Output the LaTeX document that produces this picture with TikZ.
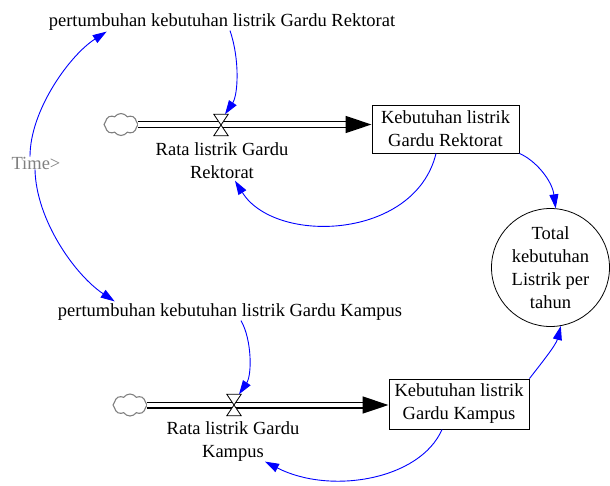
\documentclass[tikz,border=0pt]{standalone}
\usepackage{fontspec}
\setmainfont{Liberation Serif}
\usetikzlibrary{arrows.meta,shapes.symbols,shapes.geometric}
\begin{document}
\begin{tikzpicture}[x=1pt,y=-1pt,
  every node/.style={font=\fontsize{18.5}{23}\selectfont},
  lbl/.style={inner sep=0pt, align=center},
  stock/.style={draw, line width=1pt, align=center, inner sep=0pt},
  link/.style={blue, line width=0.9pt, -{Triangle[length=14pt,width=9pt]}},
  pipe/.style={double, double distance=4.2pt, line width=1.4pt, -{Triangle[length=26pt,width=17pt]}},
  src/.style={cloud, cloud puffs=8, cloud puff arc=110, cloud ignores aspect, draw=gray, line width=1.1pt, minimum width=34pt, minimum height=22pt, inner sep=0pt, outer sep=0pt},
  valvebox/.style={minimum width=14pt, minimum height=21pt, inner sep=0pt},
  valve/.style={draw, fill=white, line width=0.8pt},
]
\useasboundingbox (0,0) rectangle (610,485);

% upper chain
\node[lbl] (g1) at (222,22) {pertumbuhan kebutuhan listrik Gardu Rektorat};
\node[lbl, text=gray] (time) at (36,163) {Time>};
\node[src] (c1) at (121,124.5) {};
\node[valvebox] (v1) at (221,125) {};
\node[stock, minimum width=147pt, minimum height=48pt] (s1) at (445.5,129) {Kebutuhan listrik\\Gardu Rektorat};
\node[lbl] (r1) at (222,160.5) {Rata listrik Gardu\\Rektorat};

% total
\node[circle, draw, line width=0.8pt, minimum size=118pt, inner sep=0pt, align=center] (tot) at (550.5,267.5) {Total\\kebutuhan\\Listrik per\\tahun};

% lower chain
\node[lbl] (g2) at (230,312) {pertumbuhan kebutuhan listrik Gardu Kampus};
\node[src] (c2) at (130,405) {};
\node[valvebox] (v2) at (234,405) {};
\node[stock, minimum width=140pt, minimum height=50pt] (s2) at (459,404) {Kebutuhan listrik\\Gardu Kampus};
\node[lbl] (r2) at (233,441.5) {Rata listrik Gardu\\Kampus};

% flow pipes
\draw[pipe] (c1.east) -- (c1.east -| s1.west);
\draw[pipe] (c2.east) -- (c2.east -| s2.west);

% valves
\draw[valve] (v1.north west) -- (v1.north east) -- (v1.south west) -- (v1.south east) -- cycle;
\draw[valve] (v2.north west) -- (v2.north east) -- (v2.south west) -- (v2.south east) -- cycle;

% information links
\draw[link] ([xshift=-6pt]time.north) .. controls (30,110) and (70,55) .. ([xshift=58pt,yshift=-1pt]g1.south west);
\draw[link] ([xshift=-1pt]time.south) .. controls (36,220) and (75,275) .. ([xshift=57pt,yshift=2pt]g2.north west);
\draw[link] ([xshift=8pt]g1.south) .. controls (240,60) and (238,95) .. ([xshift=4pt]v1.north);
\draw[link] ([xshift=-9.5pt]s1.south) .. controls (415,240) and (275,245) .. ([xshift=13pt,yshift=-2pt]r1.south);
\draw[link] (s1.south east) .. controls (535,160) and (552,180) .. (tot.85);
\draw[link] ([xshift=11pt]g2.south) .. controls (252,340) and (252,375) .. ([xshift=5pt]v2.north);
\draw[link] ([xshift=-17pt]s2.south) .. controls (420,480) and (330,495) .. ([xshift=32pt]r2.south);
\draw[link] (s2.north east) .. controls (540,365) and (556,345) .. (tot.-80);
\end{tikzpicture}
\end{document}
